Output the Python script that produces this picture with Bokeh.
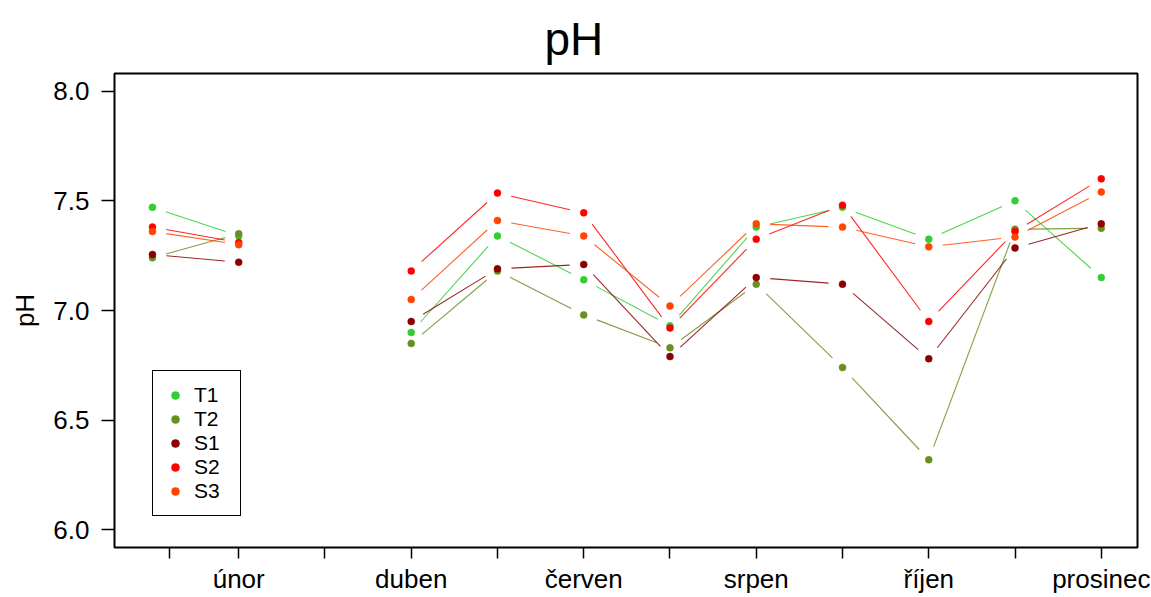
import math
from bokeh.plotting import figure
from bokeh.models import (Range1d, FixedTicker, Legend, LegendItem, Title,
                          NumeralTickFormatter)
from bokeh.embed import file_html
from bokeh.resources import INLINE

NaN = float("nan")

# ---- data -------------------------------------------------------------
months = ["leden", "únor", "březen", "duben", "květen", "červen",
          "červenec", "srpen", "září", "říjen", "listopad", "prosinec"]
month_num = [1, 2, 3, 4, 5, 6, 7, 8, 9, 10, 11, 12]

T1 = [7.47, 7.34, NaN, 6.90, 7.34, 7.14, 6.93, 7.38, 7.47, 7.325, 7.50, 7.15]
T2 = [7.24, 7.35, NaN, 6.85, 7.18, 6.98, 6.83, 7.12, 6.74, 6.32, 7.37, 7.375]
S1 = [7.255, 7.22, NaN, 6.95, 7.19, 7.21, 6.79, 7.15, 7.12, 6.78, 7.285, 7.395]
S2 = [7.38, 7.31, NaN, 7.18, 7.535, 7.445, 6.92, 7.325, 7.48, 6.95, 7.36, 7.60]
S3 = [7.36, 7.30, NaN, 7.05, 7.41, 7.34, 7.02, 7.395, 7.38, 7.29, 7.335, 7.54]

series_names = ["T1", "T2", "S1", "S2", "S3"]
series_vals = [T1, T2, S1, S2, S3]
colors = ["#32CD32", "#6B8E23", "#8B0000", "#FF0000", "#FF4500"]

y_ticks = [6.0, 6.5, 7.0, 7.5, 8.0]
x_tick_pos = [1.2] + month_num[1:]
labelled_months = {2, 4, 6, 8, 10, 12}

# ---- figure -----------------------------------------------------------
FONT = "Liberation Sans"
X0, X1 = 0.56, 12.42
Y0, Y1 = 5.92, 8.08
W, H = 1150, 597
ML, MR, MT, MB = 114, 13, 73, 50
FW, FH = W - ML - MR, H - MT - MB

p = figure(width=W, height=H, x_range=Range1d(X0, X1), y_range=Range1d(Y0, Y1),
           output_backend="svg", toolbar_location=None, title=None,
           min_border_left=ML, min_border_right=MR, min_border_top=MT,
           min_border_bottom=MB)
p.background_fill_color = "white"
p.border_fill_color = "white"
p.outline_line_color = "black"
p.outline_line_width = 2
p.xgrid.visible = False
p.ygrid.visible = False

title = Title(text="pH", align="left", offset=430, text_font=FONT,
              text_font_size="46px", text_font_style="normal",
              text_color="black", standoff=18)
p.add_layout(title, "above")

# y axis
p.yaxis.ticker = FixedTicker(ticks=y_ticks)
p.yaxis.formatter = NumeralTickFormatter(format="0.0")
p.yaxis.major_tick_out = 13
p.yaxis.major_label_standoff = 12
p.yaxis.axis_label = "pH"
p.yaxis.axis_label_text_font = FONT
p.yaxis.axis_label_text_font_size = "26px"
p.yaxis.axis_label_text_font_style = "normal"
p.yaxis.axis_label_text_color = "black"
p.yaxis.axis_label_standoff = 10

# x axis
p.xaxis.ticker = FixedTicker(ticks=x_tick_pos)
overrides = {}
for t in x_tick_pos:
    if t in labelled_months:
        overrides[t] = months[int(t) - 1]
    else:
        overrides[t] = ""
p.xaxis.major_label_overrides = overrides
p.xaxis.major_tick_out = 11
p.xaxis.major_label_standoff = 5

for ax in (p.xaxis, p.yaxis):
    ax.axis_line_color = None
    ax.major_tick_in = 0
    ax.minor_tick_line_color = None
    ax.major_tick_line_color = "black"
    ax.major_tick_line_width = 1.5
    ax.major_label_text_font = FONT
    ax.major_label_text_font_size = "26px"
    ax.major_label_text_color = "black"

# ---- lines with gaps around points (R type="b") -----------------------
px_x = FW / (X1 - X0)
px_y = FH / (Y1 - Y0)
GAP = 14

items = []
for name, vals, col in zip(series_names, series_vals, colors):
    xs0, ys0, xs1, ys1 = [], [], [], []
    for i in range(len(vals) - 1):
        a, b = vals[i], vals[i + 1]
        if math.isnan(a) or math.isnan(b):
            continue
        xa, xb = month_num[i], month_num[i + 1]
        dxp = (xb - xa) * px_x
        dyp = (b - a) * px_y
        L = math.hypot(dxp, dyp)
        if L <= 2 * GAP:
            continue
        f = GAP / L
        xs0.append(xa + f * (xb - xa))
        ys0.append(a + f * (b - a))
        xs1.append(xb - f * (xb - xa))
        ys1.append(b - f * (b - a))
    p.segment(x0=xs0, y0=ys0, x1=xs1, y1=ys1, line_color=col,
              line_width=1.1, line_alpha=0.85)
    r = p.scatter(x=month_num, y=vals, size=7, fill_color=col,
                  line_color=col, line_width=0.5, marker="circle")
    items.append(LegendItem(label=name, renderers=[r]))

legend = Legend(items=items, location=(38, 31))
legend.border_line_color = "black"
legend.border_line_alpha = 1.0
legend.border_line_width = 1.5
legend.padding = 12
legend.spacing = 0
legend.margin = 0
legend.glyph_height = 20
legend.glyph_width = 20
legend.label_height = 20
legend.label_width = 34
legend.label_standoff = 9
legend.label_text_font = FONT
legend.label_text_font_size = "21px"
legend.label_text_color = "black"
legend.background_fill_alpha = 1.0
p.add_layout(legend)

open("out.html", "w").write(file_html(p, INLINE))
